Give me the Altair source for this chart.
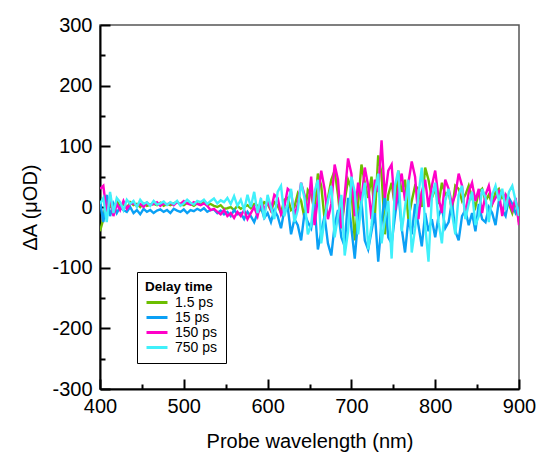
import altair as alt
import pandas as pd

# ---- data (4 nm grid) ----
wavelength = list(range(400, 901, 4))
delays = ["1.5 ps", "15 ps", "150 ps", "750 ps"]
colors = ["#6CBE00", "#0AA0F5", "#FF00C8", "#40F0FA"]

dA_1_5ps = [-40, -20, 15, 5, -5, 10, 0, 5, -2, 8,
            3, 5, 0, 6, 2, 4, 5, 3, 7, 2,
            5, 3, 6, 8, 4, 3, 7, 5, 2, 6,
            4, 8, 3, 5, 2, 0, 3, -3, -2, 0,
            -5, 2, -3, 0, 3, -2, 5, 2, -5, 8,
            5, -6, 8, 2, -10, 12, 15, -5, 0, 22,
            10, -18, 28, 20, -5, 55, 35, -20, 15, 45,
            60, 20, -35, 10, 45, 30, -55, 5, 70, 40,
            15, 50, -15, 85, 55, -45, 20, 40, 0, 60,
            25, 45, -20, 10, 35, 30, 0, 65, 45, 15,
            30, 5, 40, 20, 25, -5, 35, 30, 10, 20,
            35, 15, 0, 25, 30, 10, 20, 5, 25, 30,
            15, 20, 5, -10, 10, -25]

dA_15ps = [10, -25, 20, -15, 5, -10, 0, -5, -8, 0,
           -10, -5, -12, -3, -8, -5, -10, -6, -4, -8,
           -5, -10, -3, -6, -8, -4, -10, -5, -7, -3,
           -6, -2, -8, -5, -4, -10, -6, -12, -8, -15,
           -5, -12, -10, -20, -8, -15, -25, -10, 0, -18,
           -10, -25, -5, -15, -35, -5, 0, -45, -20, -30,
           -55, -10, -25, -35, 5, -70, -40, -15, -60, -80,
           -30, -5, -50, -65, 15, -35, -85, -20, 10, -55,
           -70, -40, -10, -90, -25, 20, -50, -60, -15, 25,
           -35, -75, -20, -45, 5, -30, -65, -10, -40, -20,
           -50, -15, 0, -35, -25, 10, -40, -55, -15, -5,
           -30, -10, -40, 5, -20, -25, 0, -10, -30, 10,
           -5, -15, 15, 5, -10, 0]

dA_150ps = [30, 35, -10, 20, -15, 5, -5, 10, -3, 5,
            6, 2, 5, 0, 7, 3, 5, 8, 2, 6,
            4, 7, 3, 8, 5, 10, 6, 4, 8, 5,
            3, 6, 2, -5, -3, -8, -12, -5, -15, -10,
            -18, -8, -15, -5, -20, -10, 0, -15, 10, -5,
            10, -5, 20, 15, -12, 0, 30, 25, -15, 5,
            40, 20, -10, 50, -30, 15, 60, 30, -20, 5,
            70, 45, -35, 20, 80, 55, -15, 40, 10, 65,
            35, -20, 45, 25, 110, 15, 60, 70, -5, 30,
            55, 10, 40, 75, 50, -20, 25, 45, 0, 35,
            60, 15, -10, 45, 30, 5, 20, 55, 35, -15,
            25, 40, 10, 30, -10, 20, 35, 5, 15, 25,
            -15, 20, 10, -5, 15, -30]

dA_750ps = [5, 15, -25, 25, -10, 15, 8, -5, 12, 5,
            10, 0, 12, 5, 8, 2, 10, 4, 6, 9,
            3, 8, 5, 10, 2, 6, 12, 7, 4, 10,
            8, 12, 5, 10, 14, 6, 11, 8, 15, 5,
            18, 2, 12, -5, 20, 0, 25, -10, 15, -20,
            20, 0, -20, 25, 35, -15, 5, 30, -25, -5,
            40, 15, -45, -30, 25, 45, -60, -20, 10, 35,
            -50, -15, 20, -80, -40, 50, 25, -45, 5, 40,
            -70, -30, 25, 55, -60, -20, 10, -85, 35, 60,
            -40, 0, 45, -75, -35, 20, 65, -30, -90, 15,
            40, -25, -60, 10, 30, -10, -45, 20, 35, -20,
            5, 25, -30, -15, 30, 15, -25, 20, 35, 10,
            30, -5, 25, 35, 10, -15]

x_major = [400, 500, 600, 700, 800, 900]
x_minor = [450, 550, 650, 750, 850]
y_major = [-300, -200, -100, 0, 100, 200, 300]
y_minor = [-250, -150, -50, 50, 150, 250]

rows = []
for d, vals in zip(delays, [dA_1_5ps, dA_15ps, dA_150ps, dA_750ps]):
    for w, v in zip(wavelength, vals):
        rows.append({"wl": w, "dA": v, "delay": d})
df = pd.DataFrame(rows)
anchor = pd.DataFrame({"wl": [400], "dA": [0]})

FONT = "Liberation Sans"
xs = alt.Scale(domain=[400, 900], nice=False, zero=False)
ys = alt.Scale(domain=[-300, 300], nice=False, zero=False)

lines = alt.Chart(df).mark_line(strokeWidth=2.4, clip=True).encode(
    x=alt.X("wl:Q", scale=xs, axis=alt.Axis(
        orient="bottom", values=x_major, offset=-10, tickSize=10, tickWidth=2,
        tickColor="black", domain=False, grid=False, labelFont=FONT,
        labelFontSize=20, labelColor="black", labelPadding=7, labelFlush=False,
        labelExpr="toString(datum.value)",
        title="Probe wavelength (nm)", titleFont=FONT, titleFontSize=20,
        titleFontWeight="normal", titleColor="black",
        titleX=209.5, titleY=62, titleBaseline="middle", titleAlign="center")),
    y=alt.Y("dA:Q", scale=ys, axis=alt.Axis(
        orient="left", values=y_major, offset=-10, tickSize=10, tickWidth=2,
        tickColor="black", domain=False, grid=False, labelFont=FONT,
        labelFontSize=20, labelColor="black", labelPadding=8, labelFlush=False,
        labelExpr="toString(datum.value)",
        title="ΔA (μOD)", titleFont=FONT, titleFontSize=20,
        titleFontWeight="normal", titleColor="black",
        titleX=-80, titleY=182, titleAngle=270, titleBaseline="middle",
        titleAlign="center")),
    color=alt.Color("delay:N", sort=delays,
                    scale=alt.Scale(domain=delays, range=colors),
                    legend=alt.Legend(
                        title="Delay time", orient="none", legendX=37, legendY=247,
                        strokeColor="black", fillColor="white", padding=8,
                        symbolType="stroke", symbolSize=440, symbolStrokeWidth=3,
                        clipHeight=14,
                        labelFont=FONT, labelFontSize=14, labelColor="black",
                        titleFont=FONT, titleFontSize=13.5, titleFontWeight="bold",
                        titleColor="black", rowPadding=1, titlePadding=2,
                        labelOffset=6)),
)

minor = alt.Chart(anchor).mark_point(opacity=0).encode(
    x=alt.X("wl:Q", scale=xs, axis=alt.Axis(
        orient="bottom", values=x_minor, offset=-5, tickSize=5, tickWidth=2,
        tickColor="black", domain=False, grid=False, labels=False, title=None)),
    y=alt.Y("dA:Q", scale=ys, axis=alt.Axis(
        orient="left", values=y_minor, offset=-5, tickSize=5, tickWidth=2,
        tickColor="black", domain=False, grid=False, labels=False, title=None)),
)

frame = alt.Chart(anchor).mark_point(opacity=0).encode(
    x=alt.X("wl:Q", scale=xs, axis=alt.Axis(
        orient="bottom", domain=True, domainColor="black", domainWidth=2,
        ticks=False, labels=False, grid=False, title=None)),
    y=alt.Y("dA:Q", scale=ys, axis=alt.Axis(
        orient="left", domain=True, domainColor="black", domainWidth=2,
        ticks=False, labels=False, grid=False, title=None)),
)

chart = alt.layer(lines, minor, frame).resolve_axis(
    x="independent", y="independent"
).properties(
    width=419, height=364,
    autosize=alt.AutoSizeParams(type="none"),
    padding={"left": 100, "top": 25, "right": 25, "bottom": 72},
).configure_view(
    stroke="#555555", strokeWidth=1.5
)

chart.save("out.html", embed_options={"renderer": "svg", "actions": False})
